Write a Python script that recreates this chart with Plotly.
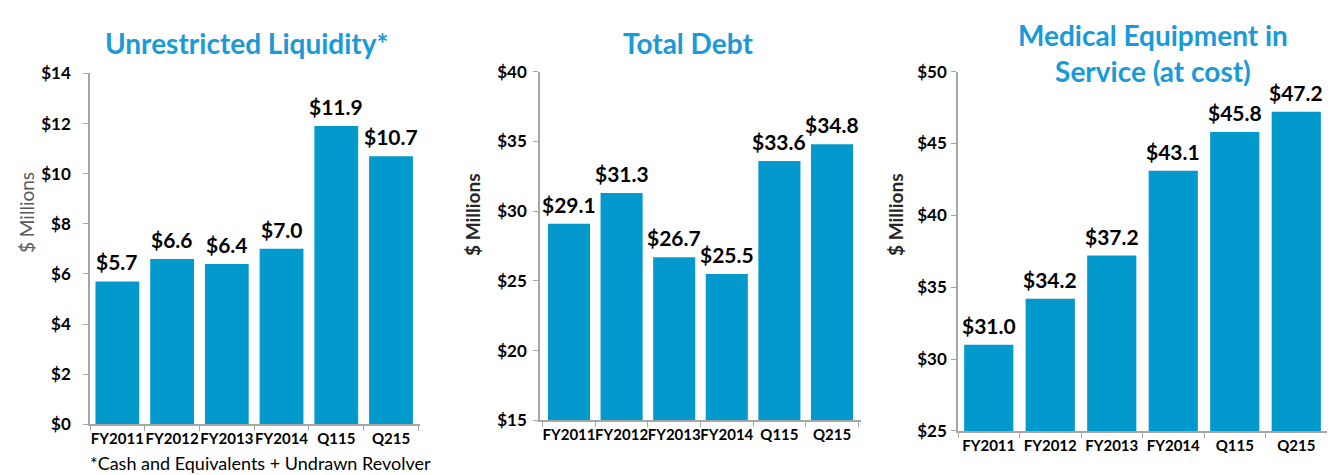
import plotly.graph_objects as go

categories = ["FY2011", "FY2012", "FY2013", "FY2014", "Q115", "Q215"]

liquidity = [5.7, 6.6, 6.4, 7.0, 11.9, 10.7]
total_debt = [29.1, 31.3, 26.7, 25.5, 33.6, 34.8]
equipment = [31.0, 34.2, 37.2, 43.1, 45.8, 47.2]

liquidity_ticks = [0, 2, 4, 6, 8, 10, 12, 14]
debt_ticks = [15, 20, 25, 30, 35, 40]
equipment_ticks = [25, 30, 35, 40, 45, 50]

BAR = "#0399CC"
TITLE = "#1A9AD6"
FONT = "Lato, Open Sans, sans-serif"

W, H = 1339, 475

panels = [
    # values, ticks, range, x px, y px (top, bottom), label standoff
    (liquidity, liquidity_ticks, [0, 14], (82, 412), (57, 424), 9),
    (total_debt, debt_ticks, [15, 40], (532, 853), (55, 420), 3),
    (equipment, equipment_ticks, [25, 50], (950, 1319), (55, 431), 1),
]

fig = go.Figure()

for i, (vals, ticks, rng, (x0, x1), (yt, yb), standoff) in enumerate(panels, start=1):
    xa = "x" if i == 1 else f"x{i}"
    ya = "y" if i == 1 else f"y{i}"
    fig.add_trace(go.Bar(
        x=categories, y=vals, xaxis=xa, yaxis=ya,
        marker_color=BAR, marker_line_width=0,
        showlegend=False, hovertemplate="%{x}: $%{y:.1f}M<extra></extra>",
    ))
    # value labels above the bars (annotations so they don't get shrunk to bar width)
    for c, v in zip(categories, vals):
        fig.add_annotation(x=c, y=v, xref=xa, yref=ya, text=f"<b>${v:.1f}</b>",
                           showarrow=False, yanchor="bottom", yshift=5,
                           font=dict(family=FONT, size=21, color="black"))
    axkey = "" if i == 1 else str(i)
    fig.update_layout(**{
        f"xaxis{axkey}": dict(
            domain=[x0 / W, x1 / W], anchor=ya, type="category",
            showline=True, linecolor="#A6A6A6", linewidth=1.5,
            ticks="outside", tickson="boundaries", ticklen=5, tickcolor="#A6A6A6",
            tickangle=0,
            tickfont=dict(family=FONT, size=15, color="black", weight="bold"),
            showgrid=False, fixedrange=True,
        ),
        f"yaxis{axkey}": dict(
            domain=[1 - yb / H, 1 - yt / H], anchor=xa, range=rng,
            tickvals=ticks, ticktext=[f"${t}" for t in ticks],
            showline=True, linecolor="#A6A6A6", linewidth=1.5,
            ticks="outside", ticklen=5, tickcolor="#A6A6A6", ticklabelstandoff=standoff,
            tickfont=dict(family=FONT, size=17, color="black", weight="bold"),
            showgrid=False, zeroline=False,
        ),
    })

titles = [
    ("Unrestricted Liquidity*", 238, 25),
    ("Total Debt", 680, 25),
    ("Medical Equipment in<br>Service (at cost)", 1145, 36),
]
for text, x, y in titles:
    fig.add_annotation(text=f"<b>{text}</b>", x=x / W, y=1 - y / H, xref="paper", yref="paper",
                       showarrow=False, xanchor="center", yanchor="middle",
                       font=dict(family=FONT, size=28, color=TITLE))

ylabels = [(18, 203, "#595959", False), (465, 205, "#262626", True), (888, 205, "#262626", True)]
for x, y, col, bold in ylabels:
    t = "<b>$ Millions</b>" if bold else "$ Millions"
    fig.add_annotation(text=t, x=x / W, y=1 - y / H, xref="paper", yref="paper",
                       showarrow=False, textangle=-90, xanchor="center", yanchor="middle",
                       font=dict(family=FONT, size=19, color=col))

fig.add_annotation(text="*Cash and Equivalents + Undrawn Revolver", x=80 / W, y=1 - 465 / H,
                   xref="paper", yref="paper", showarrow=False, xanchor="left", yanchor="middle",
                   font=dict(family=FONT, size=18, color="black"))

fig.update_layout(
    width=W, height=H, margin=dict(l=0, r=0, t=0, b=0),
    paper_bgcolor="white", plot_bgcolor="white",
    bargap=0.2, font=dict(family=FONT),
)

fig.write_html("out.html")
